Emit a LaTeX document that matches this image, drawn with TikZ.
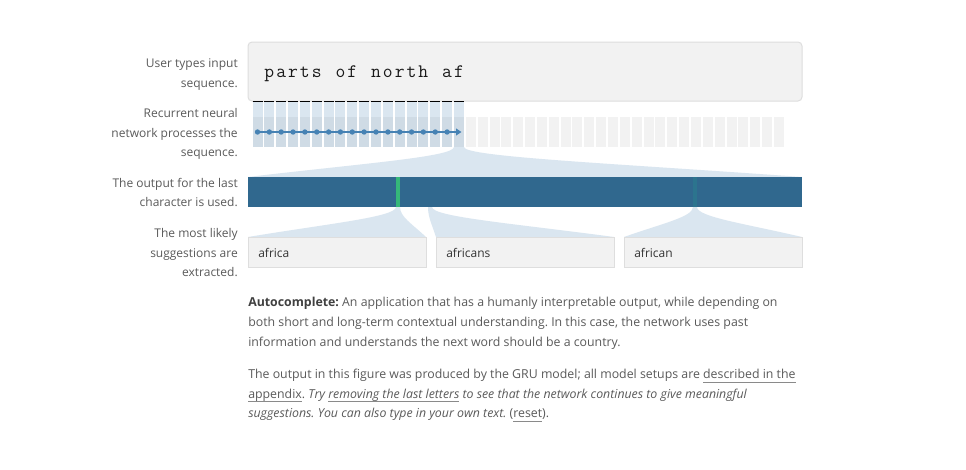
\documentclass[tikz,border=0pt]{standalone}
\usepackage{fontspec}
\setmainfont{Open Sans}
\usetikzlibrary{arrows.meta}
\frenchspacing
\definecolor{txt}{HTML}{5A5A5A}
\definecolor{ulc}{HTML}{8A8A8A}
\definecolor{boxfill}{HTML}{F2F2F2}
\definecolor{boxline}{HTML}{DEDEDE}
\definecolor{steel}{RGB}{70,130,180}
\definecolor{fanc}{RGB}{218,230,240}
\definecolor{barc}{RGB}{48,104,142}
\definecolor{greenc}{RGB}{53,183,121}
\definecolor{tealc}{RGB}{44,116,142}
\newcommand\myul[1]{\setbox0\hbox{#1}\rlap{\textcolor{ulc}{\rule[-3pt]{\wd0}{0.6pt}}}\box0\relax}
\newcommand\fanshape[6]{%
  \fill[fanc] (#1,#5) .. controls (#1,{#5+0.33*(#6-#5)}) and ({#1+0.45*(#3-#1)},{#5+0.55*(#6-#5)}) .. (#3,#6)
    -- (#4,#6) .. controls ({#2+0.45*(#4-#2)},{#5+0.55*(#6-#5)}) and (#2,{#5+0.33*(#6-#5)}) .. (#2,#5) -- cycle;}
\tikzset{
  lbl/.style={anchor=base east, inner sep=0pt, text=txt, font=\fontsize{9}{11}\selectfont\frenchspacing},
  para/.style={anchor=base west, inner sep=0pt, text=txt, font=\fontsize{9.25}{11}\selectfont\frenchspacing},
  sugg/.style={anchor=base west, inner sep=0pt, text=black!80, font=\fontsize{9}{11}\selectfont},
  inch/.style={anchor=base, inner sep=0pt, text=black!90, font=\fontsize{14.3}{16}\selectfont\ttfamily},
  panel/.style={draw=boxline, fill=boxfill, line width=0.75pt},
}
\begin{document}
\begin{tikzpicture}[x=0.75pt,y=-0.75pt]
\useasboundingbox (0,0) rectangle (966,469);
\fill[white] (0,0) rectangle (966,469);

% labels
\node[lbl] (l1a) at (238,67.5) {User types input};
\node[lbl] (l1b) at (238,87) {sequence.};
\node[lbl] (l2a) at (238,117.5) {Recurrent neural};
\node[lbl] (l2b) at (238,137) {network processes the};
\node[lbl] (l2c) at (238,156.5) {sequence.};
\node[lbl] (l3a) at (238,187.5) {The output for the last};
\node[lbl] (l3b) at (238,206.5) {character is used.};
\node[lbl] (l4a) at (238,237.5) {The most likely};
\node[lbl] (l4b) at (238,257) {suggestions are};
\node[lbl] (l4c) at (238,276.5) {extracted.};

% input text box
\draw[panel, rounded corners=3pt] (248,42) rectangle (802,101);
\foreach \c [count=\i] in {p,a,r,t,s,{},o,f,{},n,o,r,t,h,{},a,f}
  \node[inch] (ch\i) at ({257.5+\i*11.85},77) {\c};

% cells
\foreach \i in {0,...,44}
  \fill[boxfill] ({252.5+\i*11.85},117) rectangle ++(10,30);
\foreach \i in {0,...,17}{
  \fill[steel, opacity=0.2] ({252.5+\i*11.85},101) rectangle ++(10,46);
  \draw[black, line width=0.75pt] ({252.5+\i*11.85},101.6) -- ++(10,0);
}
\draw[steel, line width=1.1pt, -{Triangle[length=4pt,width=5pt]}] (257.5,132) -- (461.5,132);
\foreach \i in {0,...,16}
  \fill[steel] ({257.5+\i*11.85},132) circle (2.7);

% fan to output bar
\fanshape{453.95}{463.95}{248}{802}{147}{177}

% output bar
\fill[barc] (248,177) rectangle (802,207);
\fill[greenc] (396,177) rectangle (400,207);
\fill[tealc] (693,177) rectangle (697,207);

% fans to suggestions
\fanshape{396}{400}{248}{426}{207}{237}
\fanshape{428}{432}{436}{614}{207}{237}
\fanshape{693}{697}{624}{802}{207}{237}

% suggestion boxes
\draw[panel] (248,237) rectangle (426,267);
\draw[panel] (436,237) rectangle (614,267);
\draw[panel] (624,237) rectangle (802,267);
\node[sugg] (s1) at (258,257) {africa};
\node[sugg] (s2) at (446,257) {africans};
\node[sugg] (s3) at (634,257) {african};

% paragraph
\node[para] (p1) at (248,306) {\textbf{\textcolor{black!75}{Autocomplete:}} An application that has a humanly interpretable output, while depending on};
\node[para] (p2) at (248,326) {both short and long-term contextual understanding. In this case, the network uses past};
\node[para] (p3) at (248,346) {information and understands the next word should be a country.};
\node[para] (p4) at (248,378.5) {The output in this figure was produced by the GRU model; all model setups are \myul{described in the}};
\node[para] (p5) at (248,398) {\myul{appendix}. \textit{Try \myul{removing the last letters} to see that the network continues to give meaningful}};
\node[para] (p6) at (248,417.5) {\textit{suggestions. You can also type in your own text.} (\myul{reset}).};
\end{tikzpicture}
\end{document}
